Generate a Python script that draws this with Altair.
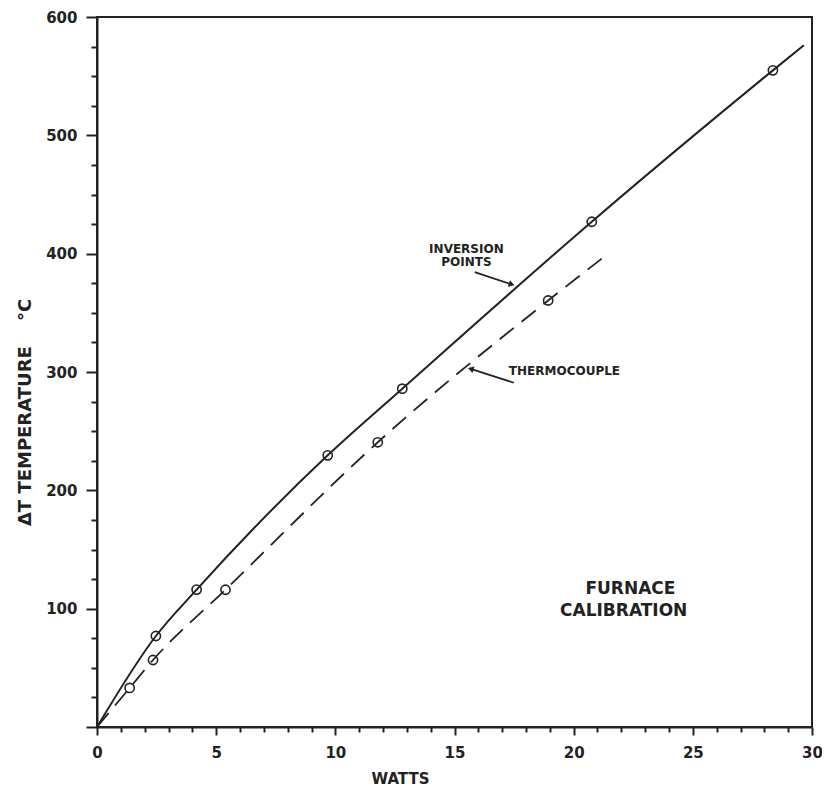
import altair as alt
import pandas as pd

# ---- data ----
inv_x = [2.47, 4.18, 9.68, 12.81, 20.76, 28.36]
inv_y = [76.9, 116.1, 229.6, 285.9, 427.0, 554.9]
inv_line_x = [0.0, 2.47, 4.18, 9.68, 12.81, 20.76, 28.36, 29.66]
inv_line_y = [0.0, 76.9, 116.1, 229.6, 285.9, 427.0, 554.9, 576.2]

tc_x = [1.37, 2.35, 5.39, 11.78, 18.93]
tc_y = [33.0, 56.6, 116.0, 240.6, 360.4]
tc_line_x = [0.0, 1.37, 2.35, 5.39, 11.78, 18.93, 21.46]
tc_line_y = [0.0, 33.0, 56.6, 116.0, 240.6, 360.4, 400.2]

x_ticks = list(range(0, 31))
y_ticks = list(range(0, 601, 25))

label_text = ["INVERSION", "POINTS", "THERMOCOUPLE"]
label_x = [15.5, 15.5, 17.28]
label_y = [404.0, 393.0, 300.8]

big_text = ["FURNACE", "CALIBRATION"]
big_x = [22.38, 22.1]
big_y = [116.7, 98.1]

arrow_x = [15.85, 17.49]
arrow_y = [384.4, 290.9]
arrow_x2 = [17.4, 15.68]
arrow_y2 = [374.0, 302.7]
arrow_angle = [18, 198]

inv_line = pd.DataFrame({"x": inv_line_x, "y": inv_line_y})
tc_line = pd.DataFrame({"x": tc_line_x, "y": tc_line_y})
pts = pd.DataFrame({"x": inv_x + tc_x, "y": inv_y + tc_y})
labels = pd.DataFrame({"t": label_text, "x": label_x, "y": label_y})
bigs = pd.DataFrame({"t": big_text, "x": big_x, "y": big_y})
arrows = pd.DataFrame({"x": arrow_x, "y": arrow_y, "x2": arrow_x2, "y2": arrow_y2, "ang": arrow_angle})

INK = "#222222"
FONT = "DejaVu Sans"
NB = "\u00a0"

xs = alt.Scale(domain=[0, 30], nice=False, zero=False)
ys = alt.Scale(domain=[0, 600], nice=False, zero=False)

x_axis = alt.Axis(
    values=x_ticks,
    tickCount=200,
    format="d",
    labelExpr="datum.value % 5 === 0 ? datum.label : ''",
    tickSize={"condition": {"test": "datum.value % 5 === 0", "value": 8}, "value": 5},
    labelPadding=10,
    labelFlush=False,
    labelOverlap=False,
    title="WATTS",
    titleX=303, titleY=51,
    titleAlign="center", titleBaseline="middle",
    titleFontSize=15, titleFont=FONT, titleFontWeight="bold", titleColor=INK,
)
y_axis = alt.Axis(
    values=y_ticks,
    tickCount=200,
    format="d",
    labelExpr="(datum.value % 100 === 0 && datum.value > 0) ? datum.label : ''",
    tickSize={"condition": {"test": "datum.value % 100 === 0", "value": 11}, "value": 6},
    labelPadding=9,
    labelFlush=False,
    labelOverlap=False,
    title="ΔT" + NB + "TEMPERATURE" + NB * 4 + "°C",
    titleX=-72, titleY=395, titleAngle=270,
    titleAlign="center", titleBaseline="middle",
    titleFontSize=18, titleFont=FONT, titleFontWeight="bold", titleColor=INK,
)

solid = alt.Chart(inv_line).mark_line(
    color=INK, strokeWidth=2, interpolate="monotone"
).encode(
    x=alt.X("x:Q", scale=xs, axis=x_axis),
    y=alt.Y("y:Q", scale=ys, axis=y_axis),
)

dashed = alt.Chart(tc_line).mark_line(
    color=INK, strokeWidth=1.8, interpolate="monotone", strokeDash=[18, 10]
).encode(x="x:Q", y="y:Q")

circles = alt.Chart(pts).mark_point(
    shape="circle", filled=False, size=85, color=INK, strokeWidth=1.6, opacity=1
).encode(x="x:Q", y="y:Q")

txt_c = alt.Chart(labels.iloc[:2]).mark_text(
    font=FONT, fontSize=12, fontWeight="bold", color=INK, baseline="middle", align="center"
).encode(x="x:Q", y="y:Q", text="t:N")
txt_l = alt.Chart(labels.iloc[2:]).mark_text(
    font=FONT, fontSize=12, fontWeight="bold", color=INK, baseline="middle", align="left"
).encode(x="x:Q", y="y:Q", text="t:N")

big = alt.Chart(bigs).mark_text(
    font=FONT, fontSize=17, fontWeight="bold", color=INK, baseline="middle", align="center"
).encode(x="x:Q", y="y:Q", text="t:N")

shafts = alt.Chart(arrows).mark_rule(color=INK, strokeWidth=1.8).encode(
    x="x:Q", y="y:Q", x2="x2:Q", y2="y2:Q"
)
heads = alt.Chart(arrows).mark_point(
    shape="triangle-right", filled=True, size=45, color=INK, opacity=1
).encode(x="x2:Q", y="y2:Q", angle=alt.Angle("ang:Q", scale=None))

chart = alt.layer(solid, dashed, circles, txt_c, txt_l, big, shafts, heads).properties(
    width=715,
    height=710,
    padding={"left": 89, "top": 9, "right": 10, "bottom": 60},
    autosize=alt.AutoSizeParams(type="none"),
).configure_view(
    stroke=INK, strokeWidth=2
).configure_axis(
    grid=False,
    domainColor=INK, domainWidth=2,
    tickColor=INK, tickWidth=2,
    labelFont=FONT, labelFontSize=15, labelFontWeight="bold", labelColor=INK,
)

chart.save("out.html", embed_options={"renderer": "svg", "actions": False})
